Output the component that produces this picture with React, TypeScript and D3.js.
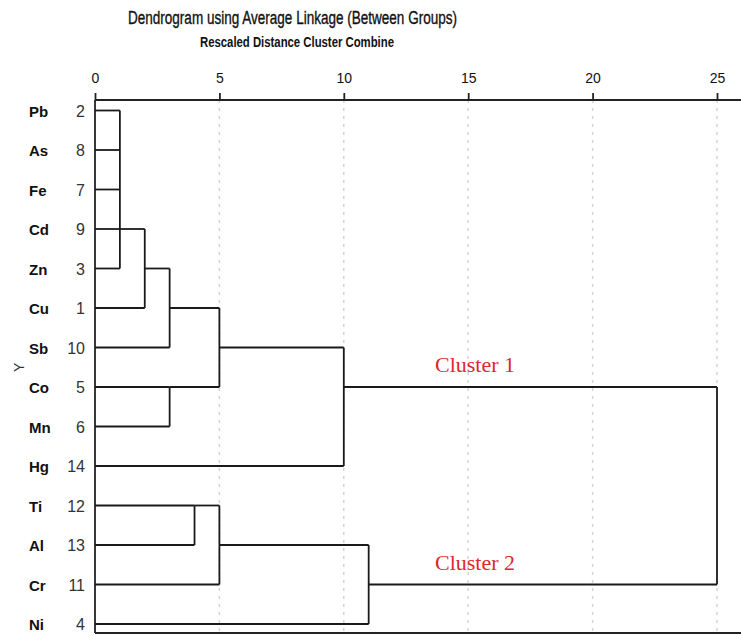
import { useEffect, useRef } from "react";
import * as d3 from "d3";

// leaves, top to bottom
const elements = ["Pb", "As", "Fe", "Cd", "Zn", "Cu", "Sb", "Co", "Mn", "Hg", "Ti", "Al", "Cr", "Ni"];
const caseNumbers = [2, 8, 7, 9, 3, 1, 10, 5, 6, 14, 12, 13, 11, 4];
// rescaled distance at which each leaf first joins a cluster
const leafJoin = [1, 1, 1, 1, 1, 2, 3, 3, 3, 10, 4, 4, 5, 11];

// merges: distance, vertical span (row indices), row the output line leaves from, parent merge
const mergeDistance = [1, 2, 3, 3, 5, 10, 4, 5, 11, 25];
const mergeTop = [0, 3, 4, 7, 5, 6, 10, 10, 11, 7];
const mergeBottom = [4, 5, 6, 8, 7, 9, 11, 12, 13, 12];
const mergeOutRow = [3, 4, 5, 7, 6, 7, 10, 11, 12, -1];
const mergeParent = [1, 2, 4, 4, 5, 9, 7, 8, 9, -1];

const xTicks = [0, 5, 10, 15, 20, 25];

const clusterNames = ["Cluster 1", "Cluster 2"];
const clusterRows = [7, 12];

export default function App() {
  const ref = useRef<SVGSVGElement>(null);

  useEffect(() => {
    const svg = d3.select(ref.current).attr("width", 741).attr("height", 636);
    svg.selectAll("*").remove();

    const left = 95;
    const right = 717;
    const top = 100;
    const bottom = 633;

    const x = d3.scaleLinear().domain([0, 25]).range([left, right]);
    const y = d3.scaleLinear().domain([0, elements.length - 1]).range([110.5, 624]);

    // Titles
    svg
      .append("text")
      .attr("x", 128)
      .attr("y", 24)
      .attr("textLength", 329)
      .attr("lengthAdjust", "spacingAndGlyphs")
      .style("font-family", "Liberation Sans, Arial, sans-serif")
      .style("font-size", "18px")
      .attr("fill", "#111")
      .attr("stroke", "#111")
      .attr("stroke-width", 0.35)
      .text("Dendrogram using Average Linkage (Between Groups)");

    svg
      .append("text")
      .attr("x", 200)
      .attr("y", 47)
      .attr("textLength", 194)
      .attr("lengthAdjust", "spacingAndGlyphs")
      .style("font-family", "Liberation Sans, Arial, sans-serif")
      .style("font-size", "14px")
      .style("font-weight", "bold")
      .attr("fill", "#111")
      .text("Rescaled Distance Cluster Combine");

    // Dotted grid lines
    svg
      .append("g")
      .selectAll("line")
      .data(xTicks.filter((d) => d > 0))
      .enter()
      .append("line")
      .attr("x1", (d) => x(d))
      .attr("x2", (d) => x(d))
      .attr("y1", top)
      .attr("y2", bottom)
      .attr("stroke", "#d4d4d4")
      .attr("stroke-width", 1.5)
      .attr("stroke-dasharray", "3,5");

    // Top axis
    const axis = svg
      .append("g")
      .attr("transform", `translate(0,${top})`)
      .call(d3.axisTop(x).tickValues(xTicks).tickSize(7).tickPadding(10));
    axis.select(".domain").remove();
    axis.selectAll(".tick line").attr("stroke", "#222").attr("stroke-width", 1.8);
    axis
      .selectAll(".tick text")
      .style("font-family", "Liberation Sans, Arial, sans-serif")
      .style("font-size", "14px")
      .attr("fill", "#111");

    // Frame
    const frame = svg.append("g").attr("stroke", "#222").attr("stroke-width", 1.8).attr("fill", "none");
    frame.append("line").attr("x1", left).attr("x2", 741).attr("y1", top).attr("y2", top);
    frame.append("line").attr("x1", left).attr("x2", 741).attr("y1", bottom).attr("y2", bottom);
    frame.append("line").attr("x1", left).attr("x2", left).attr("y1", top).attr("y2", bottom);

    // Dendrogram
    const tree = svg.append("g").attr("stroke", "#1a1a1a").attr("stroke-width", 1.8).attr("fill", "none");

    // Leaf lines
    tree
      .selectAll(".leaf")
      .data(elements)
      .enter()
      .append("line")
      .attr("class", "leaf")
      .attr("x1", left)
      .attr("x2", (_, i) => x(leafJoin[i]))
      .attr("y1", (_, i) => y(i))
      .attr("y2", (_, i) => y(i));

    // Vertical joins
    tree
      .selectAll(".join")
      .data(mergeDistance)
      .enter()
      .append("line")
      .attr("class", "join")
      .attr("x1", (d) => x(d))
      .attr("x2", (d) => x(d))
      .attr("y1", (_, i) => y(mergeTop[i]))
      .attr("y2", (_, i) => y(mergeBottom[i]));

    // Lines from each merge to its parent
    tree
      .selectAll(".link")
      .data(mergeDistance.map((d, i) => i).filter((i) => mergeParent[i] >= 0))
      .enter()
      .append("line")
      .attr("class", "link")
      .attr("x1", (i) => x(mergeDistance[i]))
      .attr("x2", (i) => x(mergeDistance[mergeParent[i]]))
      .attr("y1", (i) => y(mergeOutRow[i]))
      .attr("y2", (i) => y(mergeOutRow[i]));

    // Leaf labels
    svg
      .selectAll(".name")
      .data(elements)
      .enter()
      .append("text")
      .attr("class", "name")
      .attr("x", 29)
      .attr("y", (_, i) => y(i) + 6)
      .style("font-family", "Liberation Sans, Arial, sans-serif")
      .style("font-size", "15px")
      .style("font-weight", "bold")
      .attr("fill", "#111")
      .text((d) => d);

    svg
      .selectAll(".case")
      .data(caseNumbers)
      .enter()
      .append("text")
      .attr("class", "case")
      .attr("x", 85)
      .attr("y", (_, i) => y(i) + 6)
      .attr("text-anchor", "end")
      .style("font-family", "Liberation Sans, Arial, sans-serif")
      .style("font-size", "16px")
      .attr("fill", "#333")
      .text((d) => d);

    // Y axis label
    svg
      .append("text")
      .attr("transform", `translate(24,${y(6.5)}) rotate(-90)`)
      .attr("text-anchor", "middle")
      .style("font-family", "Liberation Sans, Arial, sans-serif")
      .style("font-size", "14px")
      .attr("fill", "#333")
      .text("Y");

    // Cluster annotations
    svg
      .selectAll(".cluster")
      .data(clusterNames)
      .enter()
      .append("text")
      .attr("class", "cluster")
      .attr("x", 435)
      .attr("y", (_, i) => y(clusterRows[i]) - 15)
      .style("font-family", "Liberation Serif, Times New Roman, serif")
      .style("font-size", "22px")
      .attr("fill", "#e2262c")
      .text((d) => d);
  }, []);

  return (
    <svg
      ref={ref}
      style={{ position: "absolute", left: 0, top: 0, display: "block", background: "#fff" }}
    ></svg>
  );
}
